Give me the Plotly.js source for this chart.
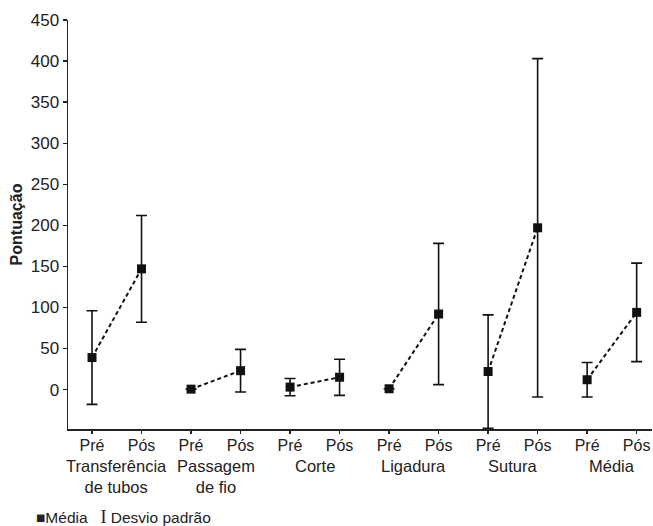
<!DOCTYPE html>
<html>
<head>
<meta charset="utf-8">
<script src="https://cdn.plot.ly/plotly-3.0.1.min.js"></script>
<style>html,body{margin:0;padding:0;background:#fff;}#chart{width:653px;height:526px;}</style>
</head>
<body>
<div id="chart"></div>
<script>
// Data
var groups = ["Transferência<br>de tubos", "Passagem<br>de fio", "Corte", "Ligadura", "Sutura", "Média"];
var phaseLabels = ["Pré", "Pós"];
var preMean = [39, 0.5, 3, 1, 22, 12];
var posMean = [147, 23, 15, 92, 197, 94];
var preSD = [57, 0, 10.5, 0, 69, 21];
var posSD = [65, 26, 22, 86, 206, 60];

var FONT = 'Liberation Sans, Arial, sans-serif';
var traces = [];
var tickvals = [], ticktext = [];
var annotations = [];
for (var i = 0; i < groups.length; i++) {
  var x0 = 2 * i, x1 = 2 * i + 1;
  tickvals.push(x0, x1);
  ticktext.push(phaseLabels[0], phaseLabels[1]);
  traces.push({
    type: 'scatter',
    mode: 'lines+markers',
    x: [x0, x1],
    y: [preMean[i], posMean[i]],
    line: {color: '#111', width: 2, dash: '4px,3px'},
    marker: {symbol: 'square', size: 9, color: '#111'},
    error_y: {type: 'data', array: [preSD[i], posSD[i]], visible: true, color: '#111', thickness: 1.6, width: 5.5},
    showlegend: false,
    hoverinfo: 'skip'
  });
  annotations.push({
    x: x0 + 0.5, xref: 'x', y: 0, yref: 'paper',
    yshift: -26, yanchor: 'top', xanchor: 'center', showarrow: false,
    text: groups[i],
    font: {family: FONT, size: 16.5, color: '#222'}
  });
}
annotations.push({
  x: 0, xref: 'paper', xshift: -34, y: 0, yref: 'paper', yshift: -76,
  xanchor: 'left', yanchor: 'top', showarrow: false, align: 'left',
  text: '■Média   <span style="font-family:Liberation Serif;font-size:18px">I</span> Desvio padrão',
  font: {family: FONT, size: 15.5, color: '#222'}
});

var layout = {
  width: 653, height: 526,
  margin: {l: 68, r: 1, t: 20, b: 97},
  paper_bgcolor: '#fff', plot_bgcolor: '#fff',
  showlegend: false,
  xaxis: {
    range: [-0.485, 11.31], tickmode: 'array', tickvals: tickvals, ticktext: ticktext,
    showgrid: false, zeroline: false, showline: true, linecolor: '#222', linewidth: 1.5,
    ticks: 'outside', ticklen: 3, tickcolor: '#222', tickwidth: 1.3, ticklabelstandoff: -2,
    tickfont: {family: FONT, size: 16, color: '#222'}
  },
  yaxis: {
    range: [-48, 450], tickmode: 'array', tickvals: [0, 50, 100, 150, 200, 250, 300, 350, 400, 450],
    showgrid: false, zeroline: false, showline: true, linecolor: '#222', linewidth: 1.5,
    ticks: 'outside', ticklen: 4, tickcolor: '#222', tickwidth: 1.3,
    tickfont: {family: FONT, size: 17, color: '#222'},
    title: {text: '<b>Pontuação</b>', standoff: 4, font: {family: FONT, size: 16, color: '#222'}}
  },
  annotations: annotations
};

Plotly.newPlot('chart', traces, layout, {displayModeBar: false, staticPlot: true});
</script>
</body>
</html>
